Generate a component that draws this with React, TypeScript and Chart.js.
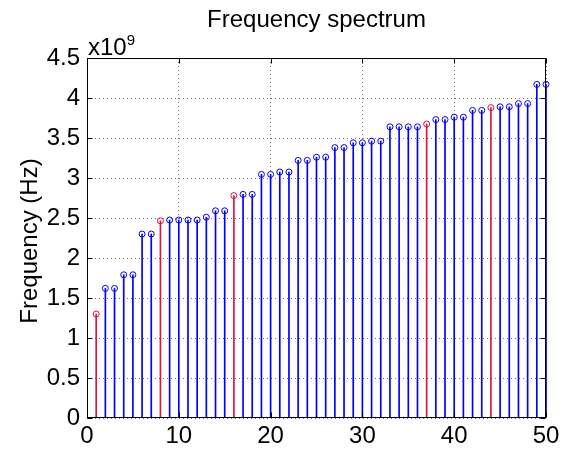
import { useEffect, useRef } from 'react';
import { Chart, registerables } from 'chart.js';

Chart.register(...registerables);

// ---- data (frequencies in units of 1e9 Hz) ----
const sampleIndex = [
  1, 2, 3, 4, 5, 6, 7, 8, 9, 10, 11, 12, 13, 14, 15, 16, 17, 18, 19, 20, 21, 22, 23, 24, 25,
  26, 27, 28, 29, 30, 31, 32, 33, 34, 35, 36, 37, 38, 39, 40, 41, 42, 43, 44, 45, 46, 47, 48, 49, 50,
];
const frequencyE9 = [
  1.30, 1.62, 1.62, 1.79, 1.79, 2.30, 2.30, 2.465, 2.475, 2.475,
  2.475, 2.475, 2.51, 2.59, 2.59, 2.78, 2.795, 2.795, 3.045, 3.045,
  3.075, 3.075, 3.22, 3.22, 3.26, 3.26, 3.38, 3.38, 3.44, 3.44,
  3.46, 3.46, 3.64, 3.64, 3.64, 3.64, 3.675, 3.73, 3.73, 3.76,
  3.76, 3.845, 3.845, 3.88, 3.89, 3.89, 3.93, 3.93, 4.17, 4.17,
];
const highlightedIndex = [1, 8, 16, 37, 44];
const yTickValues = [0, 0.5, 1, 1.5, 2, 2.5, 3, 3.5, 4, 4.5];
const xTickValues = [0, 10, 20, 30, 40, 50];
const EXPONENT = 9;
const SCALE = Math.pow(10, EXPONENT);

const titleText = 'Frequency spectrum';
const yLabelText = 'Frequency (Hz)';

const BLUE = 'rgb(0,0,255)';
const RED = 'rgb(220,20,60)';
const FONT = '"Liberation Sans", Arial, Helvetica, sans-serif';

const points = sampleIndex.map((n, i) => ({ x: n, y: frequencyE9[i] * SCALE }));
const bluePts = points.filter((p) => !highlightedIndex.includes(p.x));
const redPts = points.filter((p) => highlightedIndex.includes(p.x));

const decorPlugin = {
  id: 'matlabDecor',
  afterDatasetsDraw(chart: any) {
    const { ctx, chartArea: a, scales } = chart;
    const L = Math.round(a.left) + 0.5;
    const R = Math.round(a.right) - 0.5;
    const T = Math.round(a.top) + 0.5;
    const B = Math.round(a.bottom) - 0.5;
    ctx.save();
    ctx.strokeStyle = '#000';
    ctx.lineWidth = 1;
    ctx.strokeRect(L, T, R - L, B - T);
    const tl = 5;
    ctx.beginPath();
    for (const v of yTickValues) {
      const y = Math.round(scales.y.getPixelForValue(v * SCALE)) + 0.5;
      ctx.moveTo(L, y); ctx.lineTo(L + tl, y);
      ctx.moveTo(R, y); ctx.lineTo(R - tl, y);
    }
    for (const v of xTickValues) {
      const x = Math.round(scales.x.getPixelForValue(v)) + 0.5;
      ctx.moveTo(x, B); ctx.lineTo(x, B - tl);
      ctx.moveTo(x, T); ctx.lineTo(x, T + tl);
    }
    ctx.stroke();
    ctx.restore();
  },
  afterDraw(chart: any) {
    const { ctx, chartArea: a } = chart;
    ctx.save();
    ctx.fillStyle = '#000';
    ctx.font = `24px ${FONT}`;
    ctx.textAlign = 'center';
    ctx.textBaseline = 'alphabetic';
    ctx.fillText(titleText, (a.left + a.right) / 2, 27);
    // exponent label
    ctx.textAlign = 'left';
    ctx.fillText('x10', a.left + 1, a.top - 3);
    const w = ctx.measureText('x10').width;
    ctx.font = `15px ${FONT}`;
    ctx.fillText(String(EXPONENT), a.left + 1 + w, a.top - 13);
    // y label
    ctx.font = `24px ${FONT}`;
    ctx.translate(30, (a.top + a.bottom) / 2 + 3);
    ctx.rotate(-Math.PI / 2);
    ctx.textAlign = 'center';
    ctx.textBaseline = 'middle';
    ctx.fillText(yLabelText, 0, 0);
    ctx.restore();
  },
};

export default function App() {
  const ref = useRef<HTMLCanvasElement>(null);
  useEffect(() => {
    if (!ref.current) return;
    const stem = (data: any[], color: string) => ({
      type: 'bar' as const,
      data,
      backgroundColor: color,
      borderWidth: 0,
      barThickness: 1,
      grouped: false,
      clip: false as any,
      order: 2,
    });
    const marker = (data: any[], color: string) => ({
      type: 'scatter' as const,
      data,
      pointStyle: 'circle',
      pointRadius: 3,
      pointBorderWidth: 1,
      pointBorderColor: color,
      pointBackgroundColor: 'rgba(0,0,0,0)',
      showLine: false,
      clip: false as any,
      order: 1,
    });
    const chart = new Chart(ref.current, {
      type: 'scatter',
      data: {
        datasets: [
          stem(bluePts, BLUE) as any,
          stem(redPts, RED) as any,
          marker(bluePts, BLUE) as any,
          marker(redPts, RED) as any,
        ],
      },
      options: {
        animation: false,
        responsive: false,
        devicePixelRatio: 1,
        layout: { padding: { top: 58, right: 19, left: 0, bottom: 0 } },
        plugins: { legend: { display: false }, tooltip: { enabled: false }, title: { display: false } },
        scales: {
          x: {
            type: 'linear',
            min: 0,
            max: 50,
            offset: false,
            afterFit: (s: any) => { s.height = 35; },
            afterBuildTicks: (s: any) => { s.ticks = xTickValues.map((v) => ({ value: v })); },
            grid: { color: 'rgba(0,0,0,0.55)', drawTicks: false, offset: false },
            border: { display: false, dash: [1, 3] },
            ticks: { color: '#000', font: { size: 24, family: FONT }, padding: 4, maxRotation: 0, autoSkip: false, callback: (v: any) => String(v) },
          },
          y: {
            type: 'linear',
            min: 0,
            max: 4.5 * SCALE,
            afterFit: (s: any) => { s.width = 87; },
            afterBuildTicks: (s: any) => { s.ticks = yTickValues.map((v) => ({ value: v * SCALE })); },
            grid: { color: 'rgba(0,0,0,0.55)', drawTicks: false },
            border: { display: false, dash: [1, 3] },
            ticks: { color: '#000', font: { size: 24, family: FONT }, padding: 7, autoSkip: false, callback: (v: any) => String(Math.round((v / SCALE) * 10) / 10) },
          },
        },
      },
      plugins: [decorPlugin],
    });
    return () => chart.destroy();
  }, []);
  return (
    <div style={{ position: 'absolute', left: 0, top: 0, width: 565, height: 453, background: '#fff' }}>
      <canvas ref={ref} width={565} height={453} style={{ width: 565, height: 453, display: 'block' }} />
    </div>
  );
}
